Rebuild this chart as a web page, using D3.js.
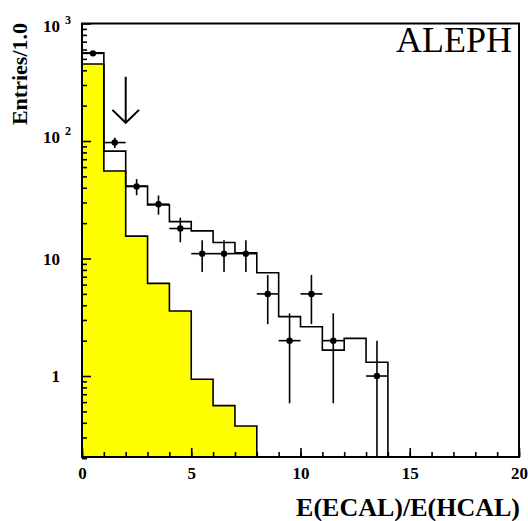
<!DOCTYPE html>
<html lang="en">
<head>
<meta charset="utf-8">
<style>
    body { margin: 0; background: #fff; }
    svg text { font-family: "Liberation Serif", "Times New Roman", serif; }
    .tick line { stroke: #000; stroke-width: 1.6; }
</style>
<script src="https://d3js.org/d3.v7.min.js"></script>
</head>
<body>
<svg width="528" height="521"></svg>
<script>
    // bin edges of the histograms (width 1.0)
    var binEdges = d3.range(0, 21);

    // yellow background histogram
    var background = [452, 55.6, 15.5, 6.15, 3.58, 0.94, 0.56, 0.376, 0, 0,
                      0, 0, 0, 0, 0, 0, 0, 0, 0, 0];
    // open histogram (total expectation)
    var expected = [564, 82, 41.4, 28.5, 20.6, 17.2, 13.7, 11.2, 7.57, 3.2,
                    2.63, 1.66, 2.09, 1.31, 0, 0, 0, 0, 0, 0];
    // data points
    var observed = [557, 97, 41, 29, 18, 11, 11, 11, 5, 2,
                    5, 2, 0, 1, 0, 0, 0, 0, 0, 0];

    var xTicks = [0, 5, 10, 15, 20];
    var yDecades = [1, 10, 100, 1000];
    var cutValue = 2;

    var svg = d3.select("svg"),
        plotLeft = 82, plotRight = 519, plotTop = 23.5, plotBottom = 457;

    var x = d3.scaleLinear().domain([0, 20]).range([plotLeft, plotRight]);
    var y = d3.scaleLog().domain([0.2046, 1000]).range([plotBottom, plotTop]);

    function yv(v) { return v > 0 ? Math.min(plotBottom, y(v)) : plotBottom; }

    // histogram points, step after each edge
    function steps(vals) {
        var pts = vals.map(function(v, i) { return [binEdges[i], v]; });
        pts.push([binEdges[vals.length], vals[vals.length - 1]]);
        return pts;
    }

    var area = d3.area()
        .curve(d3.curveStepAfter)
        .x(function(d) { return x(d[0]); })
        .y0(plotBottom)
        .y1(function(d) { return yv(d[1]); });

    var line = d3.line()
        .curve(d3.curveStepAfter)
        .x(function(d) { return x(d[0]); })
        .y(function(d) { return yv(d[1]); });

    svg.append("path")
        .attr("d", area(steps(background)))
        .attr("fill", "#ffff00");
    svg.append("path")
        .attr("d", line(steps(background)))
        .attr("fill", "none")
        .attr("stroke", "#000")
        .attr("stroke-width", 1.6);

    svg.append("path")
        .attr("d", line(steps(expected)))
        .attr("fill", "none")
        .attr("stroke", "#000")
        .attr("stroke-width", 1.6);

    // x ticks (inside the frame)
    svg.append("g")
        .attr("transform", "translate(0," + plotBottom + ")")
        .call(d3.axisBottom(x).tickValues(binEdges).tickSize(-5).tickFormat(""))
        .call(function(g) { g.select(".domain").remove(); });
    svg.append("g")
        .attr("transform", "translate(0," + plotBottom + ")")
        .call(d3.axisBottom(x).tickValues(xTicks).tickSize(-9).tickPadding(10).tickFormat(d3.format("d")))
        .call(function(g) {
            g.select(".domain").remove();
            g.selectAll(".tick text")
                .attr("font-family", "Liberation Serif, serif")
                .attr("font-weight", "bold")
                .attr("font-size", 17)
                .attr("fill", "#000");
        });

    // y ticks
    var minor = [];
    [0.1, 1, 10, 100].forEach(function(dec) {
        for (var k = 2; k <= 9; k++) {
            if (dec * k >= 0.2) minor.push(dec * k);
        }
    });
    svg.append("g")
        .attr("transform", "translate(" + plotLeft + ",0)")
        .call(d3.axisLeft(y).tickValues(minor).tickSize(-5).tickFormat(""))
        .call(function(g) { g.select(".domain").remove(); });
    svg.append("g")
        .attr("transform", "translate(" + plotLeft + ",0)")
        .call(d3.axisLeft(y).tickValues(yDecades).tickSize(-9).tickFormat(""))
        .call(function(g) { g.select(".domain").remove(); });

    var labelShift = {1: 6, 10: 6, 100: 2, 1000: 8};
    var yLab = svg.append("g");
    yDecades.forEach(function(d) {
        var exp = Math.round(Math.log10(d));
        var base = y(d) + labelShift[d];
        yLab.append("text")
            .attr("x", 60)
            .attr("y", base)
            .attr("text-anchor", "end")
            .attr("font-weight", "bold")
            .attr("font-size", 17)
            .text(exp >= 2 ? "10" : String(d));
        if (exp >= 2) {
            yLab.append("text")
                .attr("x", 65)
                .attr("y", base - 8)
                .attr("font-weight", "bold")
                .attr("font-size", 12)
                .text(exp);
        }
    });

    // data points with sqrt(N) errors
    var pts = observed.map(function(v, i) {
        return {c: (binEdges[i] + binEdges[i + 1]) / 2, lo: binEdges[i], hi: binEdges[i + 1], v: v};
    }).filter(function(d) { return d.v > 0; });

    var pg = svg.append("g").attr("stroke", "#000").attr("stroke-width", 1.6);
    pg.selectAll(".ex").data(pts).enter().append("line")
        .attr("x1", function(d) { return x(d.lo); })
        .attr("x2", function(d) { return x(d.hi); })
        .attr("y1", function(d) { return y(d.v); })
        .attr("y2", function(d) { return y(d.v); });
    pg.selectAll(".ey").data(pts).enter().append("line")
        .attr("x1", function(d) { return x(d.c); })
        .attr("x2", function(d) { return x(d.c); })
        .attr("y1", function(d) { return yv(d.v + Math.sqrt(d.v)); })
        .attr("y2", function(d) { return yv(d.v - Math.sqrt(d.v)); });
    svg.selectAll(".pt").data(pts).enter().append("circle")
        .attr("cx", function(d) { return x(d.c); })
        .attr("cy", function(d) { return y(d.v); })
        .attr("r", 3.2)
        .attr("fill", "#000");

    // cut arrow
    var arrow = svg.append("g")
        .attr("stroke", "#000")
        .attr("stroke-width", 2)
        .attr("fill", "none");
    arrow.append("line")
        .attr("x1", x(cutValue)).attr("x2", x(cutValue))
        .attr("y1", y(352)).attr("y2", y(143));
    arrow.append("path")
        .attr("d", "M" + x(cutValue - 0.61) + "," + y(184) +
                   "L" + x(cutValue) + "," + y(143) +
                   "L" + x(cutValue + 0.61) + "," + y(184));

    // frame
    svg.append("rect")
        .attr("x", plotLeft).attr("y", plotTop)
        .attr("width", plotRight - plotLeft).attr("height", plotBottom - plotTop)
        .attr("fill", "none")
        .attr("stroke", "#000")
        .attr("stroke-width", 2);

    svg.append("text")
        .attr("x", 512).attr("y", 52)
        .attr("text-anchor", "end")
        .attr("font-size", 36)
        .text("ALEPH");

    svg.append("text")
        .attr("x", 520).attr("y", 516)
        .attr("text-anchor", "end")
        .attr("font-weight", "bold")
        .attr("font-size", 26)
        .text("E(ECAL)/E(HCAL)");

    svg.append("text")
        .attr("transform", "translate(27,23) rotate(-90)")
        .attr("text-anchor", "end")
        .attr("font-weight", "bold")
        .attr("font-size", 22)
        .text("Entries/1.0");
</script>
</body>
</html>
